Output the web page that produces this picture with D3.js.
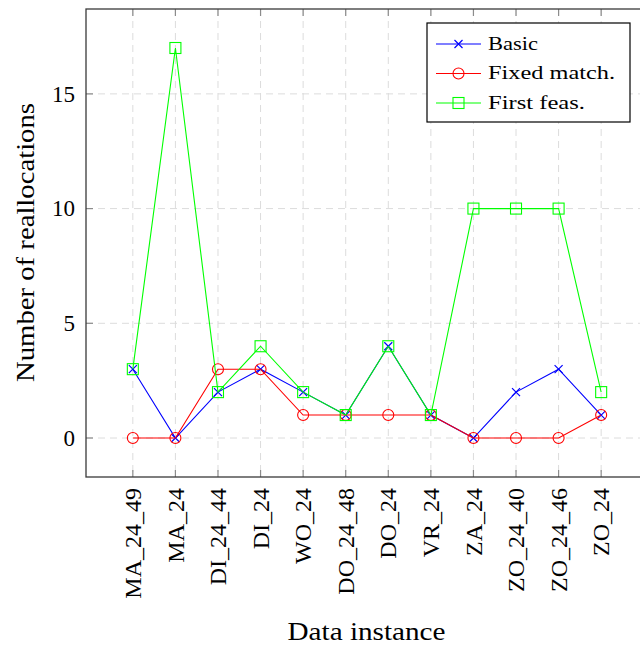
<!DOCTYPE html>
<html>
<head>
<meta charset="utf-8">
<script src="https://cdn.jsdelivr.net/npm/d3@7"></script>
<style>
  body { margin: 0; background: #fff; }
  text { font-family: "Liberation Serif", "DejaVu Serif", serif; }
</style>
</head>
<body>
<div id="chart"></div>
<script>
// data
const instances = ['MA_24_49', 'MA_24', 'DI_24_44', 'DI_24', 'WO_24', 'DO_24_48',
  'DO_24', 'VR_24', 'ZA_24', 'ZO_24_40', 'ZO_24_46', 'ZO_24']
const basic = [3, 0, 2, 3, 2, 1, 4, 1, 0, 2, 3, 1]
const fixedMatch = [0, 0, 3, 3, 1, 1, 1, 1, 0, 0, 0, 1]
const firstFeas = [3, 17, 2, 4, 2, 1, 4, 1, 10, 10, 10, 2]
const yTicks = [0, 5, 10, 15]

const series = [
  { name: 'Basic', values: basic, color: '#0000ff', mark: 'cross' },
  { name: 'Fixed match.', values: fixedMatch, color: '#ff0000', mark: 'circle' },
  { name: 'First feas.', values: firstFeas, color: '#00ff00', mark: 'square' }
]

const width = 640
const height = 646
const plot = { left: 86, right: 648, top: 9, bottom: 477 }
const serif = 'Liberation Serif, DejaVu Serif, serif'

const svg = d3.select('#chart').append('svg')
  .attr('width', width)
  .attr('height', height)
  .attr('font-family', serif)

// enlarged limits like pgfplots (10% each side)
const x = d3.scaleLinear().domain([-1.1, 12.1]).range([plot.left, plot.right])
const y = d3.scaleLinear().domain([-1.7, 18.7]).range([plot.bottom, plot.top])

// grid
const grid = svg.append('g')
  .attr('stroke', '#dcdcdc')
  .attr('stroke-width', 1)
  .attr('stroke-dasharray', '7,5')
grid.selectAll('.vg').data(instances).enter().append('line')
  .attr('x1', (d, i) => x(i)).attr('x2', (d, i) => x(i))
  .attr('y1', plot.top).attr('y2', plot.bottom)
grid.selectAll('.hg').data(yTicks).enter().append('line')
  .attr('x1', plot.left).attr('x2', plot.right)
  .attr('y1', d => y(d)).attr('y2', d => y(d))

// inner tick marks on all four sides
const ticks = svg.append('g').attr('stroke', '#8c8c8c').attr('stroke-width', 1.2)
instances.forEach((d, i) => {
  ticks.append('line').attr('x1', x(i)).attr('x2', x(i)).attr('y1', plot.bottom).attr('y2', plot.bottom - 7)
  ticks.append('line').attr('x1', x(i)).attr('x2', x(i)).attr('y1', plot.top).attr('y2', plot.top + 7)
})
yTicks.forEach(v => {
  ticks.append('line').attr('x1', plot.left).attr('x2', plot.left + 7).attr('y1', y(v)).attr('y2', y(v))
  ticks.append('line').attr('x1', plot.right).attr('x2', plot.right - 7).attr('y1', y(v)).attr('y2', y(v))
})

// y tick labels
svg.append('g').selectAll('text').data(yTicks).enter().append('text')
  .attr('x', plot.left - 11)
  .attr('y', d => y(d))
  .attr('dy', '0.34em')
  .attr('text-anchor', 'end')
  .attr('font-family', serif)
  .style('font-size', '23px')
  .text(d => d)

// x tick labels, rotated
svg.append('g').selectAll('text').data(instances).enter().append('text')
  .attr('transform', (d, i) => `translate(${x(i)},${plot.bottom + 11}) rotate(-90)`)
  .attr('dy', '0.34em')
  .attr('text-anchor', 'end')
  .attr('font-family', serif)
  .style('font-size', '24px')
  .text(d => d)

// axis titles
svg.append('text')
  .attr('transform', `translate(34,${(103 + 382) / 2}) rotate(-90)`)
  .attr('text-anchor', 'middle')
  .attr('textLength', 279)
  .attr('lengthAdjust', 'spacingAndGlyphs')
  .attr('font-family', serif)
  .style('font-size', '25px')
  .text('Number of reallocations')

svg.append('text')
  .attr('x', 366.5)
  .attr('y', 640)
  .attr('text-anchor', 'middle')
  .attr('textLength', 158)
  .attr('lengthAdjust', 'spacingAndGlyphs')
  .attr('font-family', serif)
  .style('font-size', '25px')
  .text('Data instance')

// markers
function drawMark (g, type, cx, cy, color) {
  if (type === 'cross') {
    g.append('path')
      .attr('d', `M${cx - 4},${cy - 4}L${cx + 4},${cy + 4}M${cx - 4},${cy + 4}L${cx + 4},${cy - 4}`)
      .attr('stroke', color).attr('stroke-width', 1.2).attr('fill', 'none')
  } else if (type === 'circle') {
    g.append('circle').attr('cx', cx).attr('cy', cy).attr('r', 5.5)
      .attr('stroke', color).attr('stroke-width', 1.1).attr('fill', 'none')
  } else {
    g.append('rect').attr('x', cx - 5.5).attr('y', cy - 5.5).attr('width', 11).attr('height', 11)
      .attr('stroke', color).attr('stroke-width', 1.1).attr('fill', 'none')
  }
}

const line = d3.line()
  .x((d, i) => x(i))
  .y(d => y(d))

series.forEach(s => {
  const g = svg.append('g')
  g.append('path')
    .datum(s.values)
    .attr('fill', 'none')
    .attr('stroke', s.color)
    .attr('stroke-width', 1.1)
    .attr('d', line)
  s.values.forEach((v, i) => drawMark(g, s.mark, x(i), y(v), s.color))
})

// frame
svg.append('rect')
  .attr('x', plot.left).attr('y', plot.top)
  .attr('width', plot.right - plot.left).attr('height', plot.bottom - plot.top)
  .attr('fill', 'none').attr('stroke', '#3a3a3a').attr('stroke-width', 1.3)

// legend
const legend = svg.append('g')
legend.append('rect')
  .attr('x', 427).attr('y', 23).attr('width', 203).attr('height', 99)
  .attr('fill', '#fff').attr('stroke', '#000').attr('stroke-width', 1.2)
const legendWidths = [50, 127, 97]
series.forEach((s, i) => {
  const ly = 44 + i * 29.5
  legend.append('line')
    .attr('x1', 436).attr('x2', 481).attr('y1', ly).attr('y2', ly)
    .attr('stroke', s.color).attr('stroke-width', 1.1)
  drawMark(legend, s.mark, 458.5, ly, s.color)
  legend.append('text')
    .attr('x', 488).attr('y', ly + 5.5)
    .attr('textLength', legendWidths[i])
    .attr('lengthAdjust', 'spacingAndGlyphs')
    .attr('font-family', serif)
    .style('font-size', '19px')
    .text(s.name)
})
</script>
</body>
</html>
